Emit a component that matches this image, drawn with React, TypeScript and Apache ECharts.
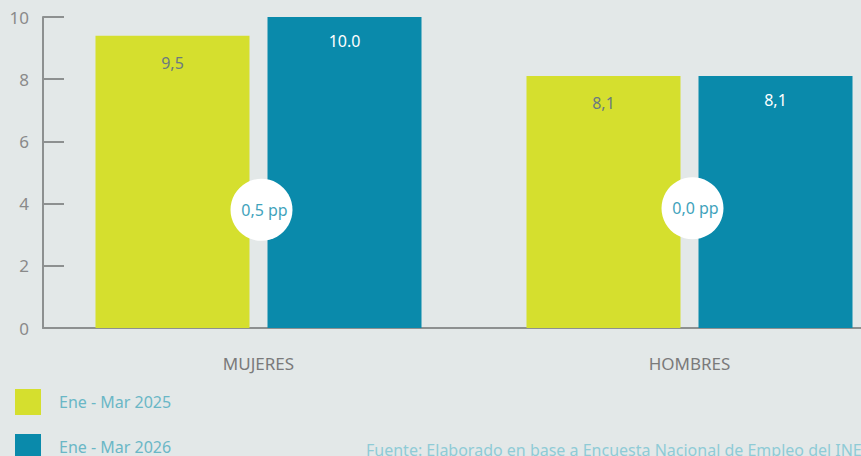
import React, { useEffect, useRef } from "react";
import * as echarts from "echarts";

const categories = ["MUJERES", "HOMBRES"];
const series2025 = [9.4, 8.1];
const labels2025 = ["9,5", "8,1"];
const series2026 = [10.0, 8.1];
const labels2026 = ["10.0", "8,1"];
const diffLabels = ["0,5 pp", "0,0 pp"];
const diffPos = [3.8, 3.85];
const legendNames = ["Ene - Mar 2025", "Ene - Mar 2026"];
const yTicks = [0, 2, 4, 6, 8, 10];
const source = "Fuente: Elaborado en base a Encuesta Nacional de Empleo del INE";

export default function App() {
  const ref = useRef<HTMLDivElement>(null);
  useEffect(() => {
    const chart = echarts.init(ref.current!, null, { renderer: "svg" });
    const font = "Noto Sans";
    const legendBase = {
      orient: "vertical",
      left: 15,
      itemWidth: 26,
      itemHeight: 26,
      icon: "rect",
      padding: 0,
      textStyle: { color: "#6ab7c6", fontSize: 16, fontFamily: font, padding: [0, 0, 0, 13] },
    };
    chart.setOption({
      animation: false,
      backgroundColor: "#e3e8e8",
      textStyle: { fontFamily: font },
      grid: { left: 43, top: 17, width: 862, height: 311, outerBoundsMode: "none", containLabel: false },
      legend: [
        { ...legendBase, data: [legendNames[0]], top: 389 },
        { ...legendBase, data: [legendNames[1]], top: 434 },
      ],
      xAxis: {
        type: "category",
        data: categories,
        axisLine: { lineStyle: { color: "#8d9090", width: 2 } },
        axisTick: { show: false },
        axisLabel: { color: "#7a7a7a", fontSize: 17, margin: 27, fontFamily: font },
      },
      yAxis: {
        type: "value",
        min: yTicks[0],
        max: yTicks[yTicks.length - 1],
        interval: 2,
        axisLine: { show: true, lineStyle: { color: "#8d9090", width: 2 } },
        axisTick: { show: true, inside: true, length: 21, lineStyle: { color: "#8d9090", width: 2 } },
        splitLine: { show: false },
        axisLabel: { color: "#8a8a8a", fontSize: 17, margin: 14, fontFamily: font },
      },
      series: [
        {
          name: legendNames[0],
          type: "bar",
          data: series2025,
          barWidth: 154,
          barGap: "11.7%",
          itemStyle: { color: "#d5df2e" },
          label: {
            show: true,
            position: "insideTop",
            distance: 19,
            color: "#6b7a80",
            fontSize: 16,
            fontFamily: font,
            formatter: (p: any) => labels2025[p.dataIndex],
          },
        },
        {
          name: legendNames[1],
          type: "bar",
          data: series2026,
          barWidth: 154,
          barGap: "11.7%",
          itemStyle: { color: "#0a8aab" },
          label: {
            show: true,
            position: "insideTop",
            distance: 16,
            color: "#ffffff",
            fontSize: 16,
            fontFamily: font,
            formatter: (p: any) => labels2026[p.dataIndex],
          },
        },
        {
          name: "diff",
          type: "scatter",
          data: diffPos,
          symbol: "circle",
          symbolSize: 62,
          symbolOffset: [3, 0],
          itemStyle: { color: "#ffffff", opacity: 1 },
          label: {
            show: true,
            position: "inside",
            offset: [3, 0],
            color: "#3fa3bc",
            fontSize: 16,
            fontFamily: font,
            formatter: (p: any) => diffLabels[p.dataIndex],
          },
          z: 10,
        },
      ],
      graphic: [
        {
          type: "text",
          left: 366,
          top: 442,
          style: { text: source, fill: "#8fcbd6", fontSize: 16, fontFamily: font },
        },
      ],
    });
    return () => chart.dispose();
  }, []);
  return <div ref={ref} style={{ width: 861, height: 456, position: "fixed", left: 0, top: 0 }} />;
}
